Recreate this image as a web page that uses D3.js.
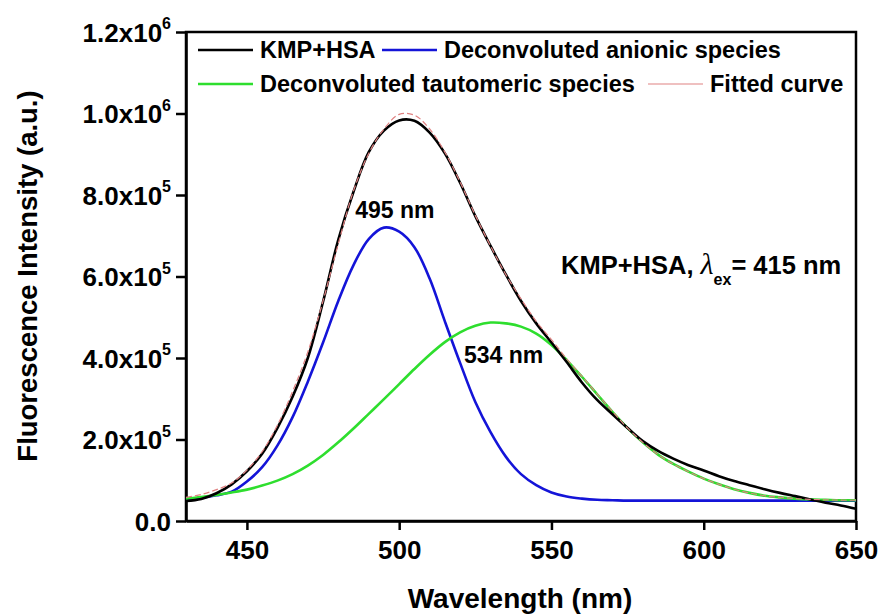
<!DOCTYPE html>
<html>
<head>
<meta charset="utf-8">
<script src="https://cdn.jsdelivr.net/npm/d3@7"></script>
<style>
  html, body { margin: 0; padding: 0; background: #fff; }
  svg { display: block; font-family: "Liberation Sans", Arial, sans-serif; font-weight: bold; }
</style>
</head>
<body>
<svg id="chart" width="884" height="616"></svg>
<script>
// ---- data (intensity in units of 1e5 a.u.) ----
const wavelengths = [430,435,440,445,450,455,460,465,470,475,480,485,490,495,500,505,510,515,520,525,530,535,540,545,550,555,560,565,570,575,580,585,590,595,600,605,610,615,620,625,630,635,640,645,650];
const kmpHsa = [0.49,0.54,0.68,0.90,1.22,1.65,2.28,3.05,4.00,5.38,6.90,8.08,9.05,9.58,9.83,9.82,9.53,9.02,8.30,7.48,6.75,6.05,5.40,4.85,4.38,3.90,3.40,2.97,2.62,2.28,1.96,1.72,1.53,1.37,1.24,1.10,0.98,0.88,0.78,0.69,0.61,0.53,0.45,0.38,0.30];
const anionic = [0.53,0.57,0.63,0.72,0.97,1.32,1.85,2.55,3.42,4.38,5.40,6.28,6.92,7.20,7.10,6.72,5.95,4.90,3.88,2.92,2.18,1.58,1.15,0.88,0.70,0.60,0.55,0.52,0.51,0.50,0.50,0.50,0.50,0.50,0.50,0.50,0.50,0.50,0.50,0.50,0.50,0.50,0.50,0.50,0.50];
const tautomeric = [0.55,0.59,0.64,0.70,0.77,0.87,0.99,1.15,1.36,1.62,1.93,2.27,2.63,2.99,3.36,3.73,4.08,4.39,4.63,4.79,4.87,4.85,4.77,4.60,4.32,3.95,3.54,3.11,2.68,2.28,1.93,1.63,1.40,1.21,1.04,0.90,0.78,0.69,0.62,0.58,0.55,0.53,0.52,0.51,0.51];
const fitted = [0.58,0.65,0.77,0.93,1.25,1.70,2.35,3.18,4.15,5.40,6.80,8.10,9.02,9.62,9.98,9.96,9.62,9.05,8.32,7.50,6.75,6.05,5.45,4.90,4.45,3.98,3.55,3.12,2.69,2.28,1.93,1.63,1.40,1.21,1.04,0.90,0.78,0.69,0.62,0.58,0.55,0.53,0.52,0.51,0.51];

const xTicks = [450,500,550,600,650];
const yTicks = [0,2,4,6,8,10,12];
const yTickMantissa = ["0.0","2.0x10","4.0x10","6.0x10","8.0x10","1.0x10","1.2x10"];
const yTickExponent = ["","5","5","5","5","6","6"];

const seriesNames = ["KMP+HSA","Deconvoluted anionic species","Deconvoluted tautomeric species","Fitted curve"];
const seriesColors = ["#000000","#1414d8","#2ede2e","#e08282"];

const peakLabels = ["495 nm","534 nm"];
const peakLabelPos = [[498.6, 7.43],[534.3, 3.88]];
const infoText = ["KMP+HSA, ", "\u03bb", "ex", "= 415 nm"];

// ---- layout ----
const W = 884, H = 616;
const margin = {left: 186, right: 28, top: 32, bottom: 95};
const svg = d3.select("#chart");
const x = d3.scaleLinear().domain([430,650]).range([margin.left, W - margin.right]);
const y = d3.scaleLinear().domain([0,12]).range([H - margin.bottom, margin.top]);

// frame (top/right)
svg.append("rect")
  .attr("x", x(430)).attr("y", y(12))
  .attr("width", x(650) - x(430)).attr("height", y(0) - y(12))
  .attr("fill", "none").attr("stroke", "#000").attr("stroke-width", 2.5);

// axes
const xAxis = svg.append("g").attr("transform", `translate(0,${y(0)})`)
  .call(d3.axisBottom(x).tickValues(xTicks).tickSize(9).tickSizeOuter(0).tickFormat(d3.format("d")));
xAxis.select(".domain").attr("stroke-width", 2.5);
xAxis.selectAll(".tick line").attr("stroke-width", 2.5);
xAxis.selectAll(".tick text").attr("font-size", 26).attr("font-weight", "bold")
  .attr("font-family", "Liberation Sans, Arial, sans-serif").attr("fill", "#000").attr("dy", "1.0em");

const yAxis = svg.append("g").attr("transform", `translate(${x(430)},0)`)
  .call(d3.axisLeft(y).tickValues(yTicks).tickSize(10).tickSizeOuter(0).tickFormat(() => ""));
yAxis.select(".domain").attr("stroke-width", 2.5);
yAxis.selectAll(".tick line").attr("stroke-width", 2.5);
yAxis.selectAll(".tick text").each(function(d, i) {
  const t = d3.select(this)
    .attr("font-size", 26).attr("font-weight", "bold").attr("fill", "#000")
    .attr("font-family", "Liberation Sans, Arial, sans-serif")
    .attr("x", -15).attr("dy", "0.36em");
  t.append("tspan").text(yTickMantissa[i]);
  if (yTickExponent[i]) {
    t.append("tspan").attr("font-size", 16).attr("dy", "-0.8em").text(yTickExponent[i]);
  }
});

// axis titles
svg.append("text")
  .attr("x", 520).attr("y", 608)
  .attr("text-anchor", "middle").attr("font-size", 28).text("Wavelength (nm)");
svg.append("text")
  .attr("transform", `translate(37,276) rotate(-90)`)
  .attr("text-anchor", "middle").attr("font-size", 27.5).text("Fluorescence Intensity (a.u.)");

// lines
const series = [kmpHsa, anionic, tautomeric, fitted];
const line = d3.line().x((d, i) => x(wavelengths[i])).y(d => y(d)).curve(d3.curveCatmullRom.alpha(0.5));
const drawOrder = [1, 2, 0, 3];
drawOrder.forEach(k => {
  svg.append("path").datum(series[k])
    .attr("d", line)
    .attr("fill", "none")
    .attr("stroke", seriesColors[k])
    .attr("stroke-width", k === 3 ? 1.2 : 2.6)
    .attr("stroke-dasharray", k === 3 ? "6,3" : null)
    .attr("stroke-linejoin", "round");
});

// legend
const legendItems = [
  {k: 0, lx: 198, ly: 50},
  {k: 1, lx: 382, ly: 50},
  {k: 2, lx: 198, ly: 84},
  {k: 3, lx: 648, ly: 84}
];
legendItems.forEach(it => {
  svg.append("line")
    .attr("x1", it.lx).attr("x2", it.lx + 55).attr("y1", it.ly).attr("y2", it.ly)
    .attr("stroke", seriesColors[it.k]).attr("stroke-width", it.k === 3 ? 1.2 : 2.6);
  svg.append("text")
    .attr("x", it.lx + 62).attr("y", it.ly + 8)
    .attr("font-size", 23.5).text(seriesNames[it.k]);
});

// peak annotations
peakLabels.forEach((lab, i) => {
  svg.append("text")
    .attr("x", x(peakLabelPos[i][0])).attr("y", y(peakLabelPos[i][1]))
    .attr("text-anchor", "middle").attr("font-size", 23).text(lab);
});

// info text
const info = svg.append("text").attr("x", 561).attr("y", 274).attr("font-size", 25.5);
info.append("tspan").text(infoText[0]);
info.append("tspan").attr("font-style", "italic").attr("font-family", "Liberation Serif, serif").attr("font-weight", "normal").attr("font-size", 30).text(infoText[1]);
info.append("tspan").attr("font-size", 16).attr("dy", 11).text(infoText[2]);
info.append("tspan").attr("dy", -11).text(infoText[3]);
</script>
</body>
</html>
